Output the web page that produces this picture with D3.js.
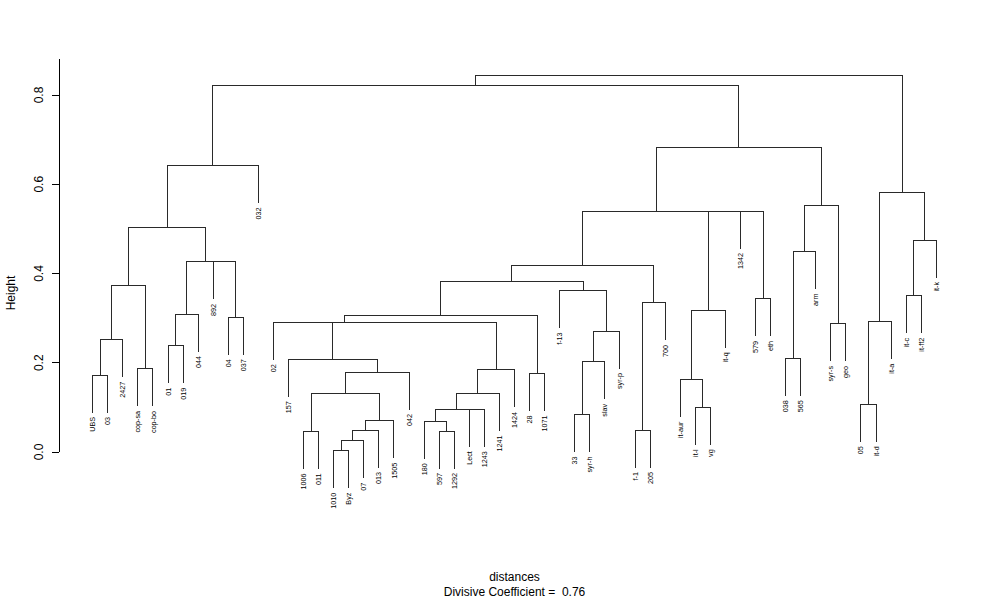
<!DOCTYPE html>
<html>
<head>
<meta charset="utf-8">
<script src="https://cdn.jsdelivr.net/npm/d3@7"></script>
<style>
  html, body { margin: 0; padding: 0; background: #fff; }
  svg { display: block; font-family: "Liberation Sans", Arial, sans-serif; }
</style>
</head>
<body>
<svg id="chart" width="1000" height="600"></svg>
<script>
// Leaf labels in plotting order
const labels = ["UBS","03","2427","cop-sa","cop-bo","01","019","044","892","04","037","032",
  "02","157","1006","011","1010","Byz","07","013","1505","042","180","597","1292","Lect","1243",
  "1241","1424","28","1071","f-13","33","syr-h","slav","syr-p","f-1","205","700","it-aur","it-l",
  "vg","it-q","1342","579","eth","038","565","arm","syr-s","geo","05","it-d","it-a","it-c","it-ff2","it-k"];

// Merge table (negative = leaf index, 1-based; positive = earlier merge row, 1-based)
const merges = [
  [-17,-18],[1,-19],[-15,-16],[2,-20],[-24,-25],[-37,-38],[-26,-27],[-23,5],[8,7],[4,-21],
  [3,10],[11,-22],[-14,12],[9,-28],[14,-29],[13,15],[-13,16],[-30,-31],[17,18],[-33,-34],
  [20,-35],[21,-36],[-32,22],[19,23],[6,-39],[24,25],[-41,-42],[-40,27],[28,-43],[-45,-46],
  [-44,30],[29,31],[26,32],[-47,-48],[34,-49],[-50,-51],[35,36],[33,37],[-1,-2],[39,-3],
  [-4,-5],[40,41],[-6,-7],[43,-8],[-10,-11],[-9,45],[44,46],[42,47],[48,-12],[49,38],
  [-52,-53],[51,-54],[-55,-56],[53,-57],[52,54],[50,55]
];

// Merge heights (one per merge row)
const heights = [
  0.003,0.025,0.046,0.049,0.047,0.049,0.096,0.069,0.096,0.070,
  0.130,0.179,0.208,0.131,0.184,0.291,0.291,0.176,0.305,0.084,
  0.202,0.271,0.362,0.383,0.334,0.419,0.100,0.162,0.3175,0.343,
  0.540,0.540,0.540,0.210,0.449,0.287,0.553,0.683,0.1725,0.2517,
  0.186,0.374,0.238,0.309,0.302,0.426,0.426,0.502,0.642,0.822,
  0.107,0.292,0.350,0.475,0.582,0.843
];

const yTicks = [0.0, 0.2, 0.4, 0.6, 0.8];
const xTitle = "distances";
const subTitle = "Divisive Coefficient =  0.76";
const yTitle = "Height";

const svg = d3.select("#chart");
const n = labels.length;
const plotL = 59, plotR = 970, plotT = 59;
const ext = 0.04 * (n - 1);
const x = d3.scaleLinear().domain([1 - ext, n + ext]).range([plotL, plotR]);
const y = d3.scaleLinear().domain([0, 0.8]).range([452, 95]);
const hang = 0.1 * (d3.max(heights) - d3.min(heights));

// node x positions
const nodeX = [];
const posOf = c => c < 0 ? -c : nodeX[c - 1];
merges.forEach(([a, b], i) => { nodeX[i] = (posOf(a) + posOf(b)) / 2; });

const g = svg.append("g");
const lineColor = "#2a2a2a";

merges.forEach(([a, b], i) => {
  const h = heights[i];
  const path = d3.path();
  const ends = [a, b].map(c => c < 0 ? h - hang : heights[c - 1]);
  path.moveTo(x(posOf(a)), y(ends[0]));
  path.lineTo(x(posOf(a)), y(h));
  path.lineTo(x(posOf(b)), y(h));
  path.lineTo(x(posOf(b)), y(ends[1]));
  g.append("path").attr("d", path.toString())
    .attr("fill", "none").attr("stroke", lineColor).attr("stroke-width", 1)
    .attr("shape-rendering", "crispEdges");
  [a, b].forEach(c => {
    if (c < 0) {
      const lx = x(-c), ly = y(h - hang) + 4.5;
      g.append("text")
        .attr("transform", `translate(${lx},${ly}) rotate(-90)`)
        .attr("text-anchor", "end")
        .attr("dy", "0.35em")
        .attr("font-size", "7.2px")
        .attr("fill", "#000")
        .text(labels[-c - 1]);
    }
  });
});

// Y axis
const ax = svg.append("g");
ax.append("line")
  .attr("x1", plotL).attr("x2", plotL)
  .attr("y1", y(0)).attr("y2", plotT)
  .attr("stroke", "#000").attr("shape-rendering", "crispEdges");
yTicks.forEach(t => {
  ax.append("line")
    .attr("x1", plotL - 7).attr("x2", plotL)
    .attr("y1", y(t)).attr("y2", y(t))
    .attr("stroke", "#000").attr("shape-rendering", "crispEdges");
  ax.append("text")
    .attr("transform", `translate(${plotL - 16},${y(t)}) rotate(-90)`)
    .attr("text-anchor", "middle")
    .attr("font-size", "12px")
    .text(d3.format(".1f")(t));
});
svg.append("text")
  .attr("transform", `translate(15,${(plotT + 527) / 2}) rotate(-90)`)
  .attr("text-anchor", "middle")
  .attr("font-size", "12px")
  .text(yTitle);

svg.append("text")
  .attr("x", (plotL + plotR) / 2).attr("y", 581)
  .attr("text-anchor", "middle").attr("font-size", "12px")
  .text(xTitle);
svg.append("text")
  .attr("x", (plotL + plotR) / 2).attr("y", 596)
  .attr("text-anchor", "middle").attr("font-size", "12px")
  .style("white-space", "pre")
  .text(subTitle);
</script>
</body>
</html>
